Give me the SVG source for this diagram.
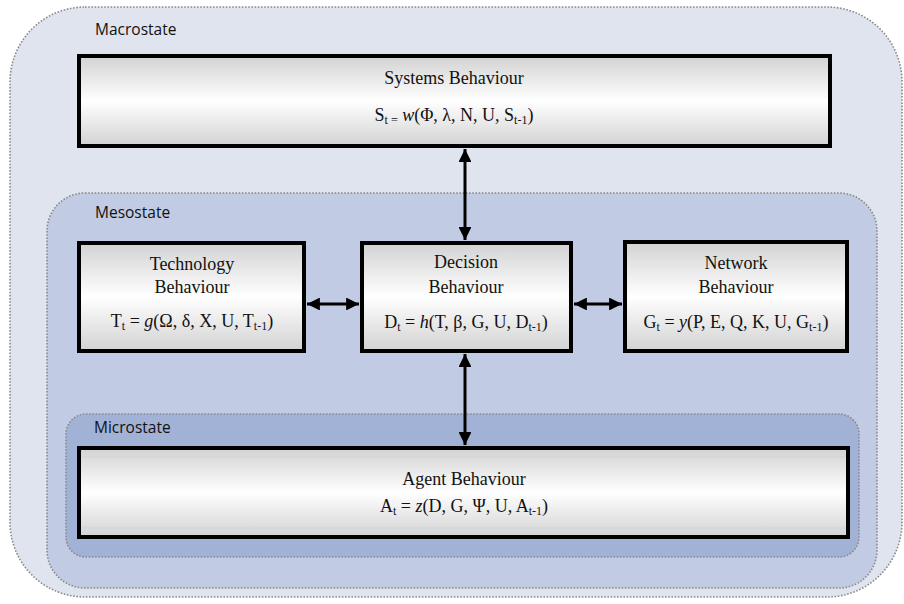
<svg xmlns="http://www.w3.org/2000/svg" width="904" height="604" viewBox="0 0 904 604">
<defs>
<linearGradient id="g" x1="0" y1="0" x2="0" y2="1">
<stop offset="0" stop-color="#d2d2d2"/>
<stop offset="0.5" stop-color="#ffffff"/>
<stop offset="1" stop-color="#d2d2d2"/>
</linearGradient>
<marker id="ah" viewBox="0 0 10 10" refX="10" refY="5" markerWidth="4.3" markerHeight="4.3" orient="auto-start-reverse" markerUnits="strokeWidth">
<path d="M0,0 L10,5 L0,10 z" fill="#000"/>
</marker>
</defs>
<style>
.zone{stroke:#8a8a8a;stroke-width:1.6;stroke-dasharray:1.6 1.6}
.box{fill:url(#g);stroke:#000;stroke-width:4}
.lbl{font-family:"Open Sans","Liberation Sans",sans-serif;font-size:15.5px;fill:#111}
.t{font-family:"Liberation Serif","Times New Roman",serif;font-size:18px;fill:#111;text-anchor:middle}
.sub{font-size:12px}
.con{stroke:#000;stroke-width:3;fill:none;marker-start:url(#ah);marker-end:url(#ah)}
.hl{stroke:#cfd3e2;stroke-width:1}
</style>
<g id="macrostate">
<rect class="zone" x="10" y="7" width="892" height="590" rx="75" fill="#dfe4ef"/>
<text class="lbl" x="95" y="35">Macrostate</text>
</g>
<g id="mesostate">
<rect class="zone" x="47" y="193" width="830" height="395" rx="38" fill="#c1cbe3"/>
<text class="lbl" x="95" y="218">Mesostate</text>
</g>
<g id="microstate">
<rect class="zone" x="66" y="414" width="793" height="143" rx="20" fill="#a2b2d6"/>
<text class="lbl" x="94" y="433">Microstate</text>
</g>
<g id="systems">
<rect class="box" x="79" y="56" width="751" height="90"/>
<text class="t" x="454" y="84">Systems Behaviour</text>
<text class="t" x="454" y="121">S<tspan class="sub" dy="3">t =</tspan><tspan dy="-3"> </tspan><tspan font-style="italic">w</tspan>(Φ, λ, N, U, S<tspan class="sub" dy="3">t-1</tspan><tspan dy="-3">)</tspan></text>
</g>
<g id="technology">
<rect class="box" x="79" y="243" width="225" height="108"/>
<text class="t" x="192" y="270">Technology</text>
<text class="t" x="192" y="293">Behaviour</text>
<text class="t" x="192" y="327">T<tspan class="sub" dy="3">t</tspan><tspan dy="-3"> = </tspan><tspan font-style="italic">g</tspan>(Ω, δ, X, U, T<tspan class="sub" dy="3">t-1</tspan><tspan dy="-3">)</tspan></text>
</g>
<g id="decision">
<rect class="box" x="362" y="243" width="209" height="108"/>
<text class="t" x="466" y="268">Decision</text>
<text class="t" x="466" y="293">Behaviour</text>
<text class="t" x="466" y="328">D<tspan class="sub" dy="3">t</tspan><tspan dy="-3"> = </tspan><tspan font-style="italic">h</tspan>(T, β, G, U, D<tspan class="sub" dy="3">t-1</tspan><tspan dy="-3">)</tspan></text>
</g>
<g id="network">
<rect class="box" x="625" y="242" width="222" height="109"/>
<text class="t" x="736" y="269">Network</text>
<text class="t" x="736" y="293">Behaviour</text>
<text class="t" x="736" y="328">G<tspan class="sub" dy="3">t</tspan><tspan dy="-3"> = </tspan><tspan font-style="italic">y</tspan>(P, E, Q, K, U, G<tspan class="sub" dy="3">t-1</tspan><tspan dy="-3">)</tspan></text>
</g>
<g id="agent">
<rect class="box" x="79" y="448" width="769" height="89"/>
<line class="hl" x1="81" y1="457" x2="846" y2="457"/>
<line class="hl" x1="81" y1="528" x2="846" y2="528"/>
<text class="t" x="464" y="485">Agent Behaviour</text>
<text class="t" x="464" y="512">A<tspan class="sub" dy="3">t</tspan><tspan dy="-3"> = </tspan><tspan font-style="italic">z</tspan>(D, G, Ψ, U, A<tspan class="sub" dy="3">t-1</tspan><tspan dy="-3">)</tspan></text>
</g>
<g id="connectors">
<line class="con" x1="465" y1="149" x2="465" y2="240"/>
<line class="con" x1="307" y1="304" x2="359" y2="304"/>
<line class="con" x1="574" y1="304" x2="622" y2="304"/>
<line class="con" x1="465" y1="354" x2="465" y2="445"/>
</g>
</svg>
